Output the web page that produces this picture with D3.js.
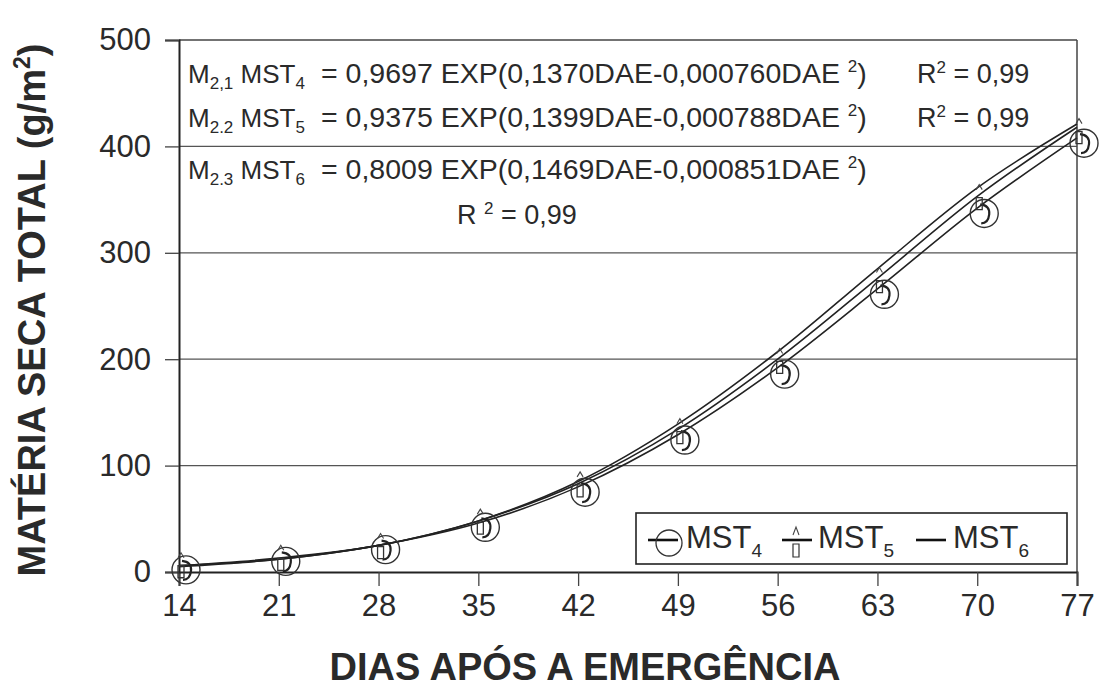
<!DOCTYPE html>
<html>
<head>
<meta charset="utf-8">
<script src="https://cdn.jsdelivr.net/npm/d3@7"></script>
<style>
  body { margin: 0; background: #fff; }
  text { font-family: "Liberation Sans", Arial, sans-serif; fill: #2a2a2a; }
</style>
</head>
<body>
<div id="chart"></div>
<script>
// days after emergence
var days = [14, 21, 28, 35, 42, 49, 56, 63, 70, 77];
// observed points
var obs4 = [2, 10, 21, 42, 75, 124, 186, 261, 337, 403];
var obs5 = [4, 11, 22, 45, 80, 130, 196, 272, 350, 412];
// fitted curves
var fit4 = [6, 12, 25, 46, 80, 129, 192, 266, 342, 408];
var fit5 = [6, 13, 25, 48, 83, 134, 200, 276, 353, 418];
var fit6 = [5, 12, 25, 48, 85, 139, 207, 285, 361, 421];
var yTicks = [0, 100, 200, 300, 400, 500];

var W = 1099, H = 689;
var pLeft = 179, pRight = 1077, pTop = 40, pBottom = 572;

var svg = d3.select("#chart").append("svg")
    .attr("width", W)
    .attr("height", H);

var x = d3.scaleLinear().domain([14, 77]).range([pLeft, pRight]);
var y = d3.scaleLinear().domain([0, 500]).range([pBottom, pTop]);

// gridlines
svg.append("g")
    .selectAll("line")
    .data(yTicks.slice(1, 5))
    .enter().append("line")
    .attr("x1", pLeft).attr("x2", pRight)
    .attr("y1", function (d) { return y(d); })
    .attr("y2", function (d) { return y(d); })
    .attr("stroke", "#555")
    .attr("stroke-width", 1.3);

// frame top/right
svg.append("line").attr("x1", pLeft).attr("x2", pRight).attr("y1", pTop).attr("y2", pTop)
    .attr("stroke", "#444").attr("stroke-width", 1.5);
svg.append("line").attr("x1", pRight).attr("x2", pRight).attr("y1", pTop).attr("y2", pBottom)
    .attr("stroke", "#444").attr("stroke-width", 1.5);

// axes
var gx = svg.append("g")
    .attr("transform", "translate(0," + pBottom + ")")
    .call(d3.axisBottom(x).tickValues(days).tickSize(14).tickPadding(8));
var gy = svg.append("g")
    .attr("transform", "translate(" + pLeft + ",0)")
    .call(d3.axisLeft(y).tickValues(yTicks).tickSize(14).tickPadding(14));

[gx, gy].forEach(function (g) {
    g.select(".domain").attr("stroke", "#222").attr("stroke-width", 2);
    g.selectAll(".tick line").attr("stroke", "#444").attr("stroke-width", 1.3);
    g.selectAll(".tick text")
        .attr("font-size", 31)
        .attr("font-family", "Liberation Sans, Arial, sans-serif")
        .attr("fill", "#333");
});

// fitted lines
var line = d3.line()
    .x(function (d, i) { return x(days[i]); })
    .y(function (d) { return y(d); })
    .curve(d3.curveMonotoneX);

[fit4, fit5, fit6].forEach(function (s) {
    svg.append("path")
        .attr("d", line(s))
        .attr("fill", "none")
        .attr("stroke", "#222")
        .attr("stroke-width", 1.6);
});

// MST4 markers: open circles with a stroke through
var m4 = svg.append("g");
days.forEach(function (d, i) {
    var g = m4.append("g").attr("transform", "translate(" + (x(d) + 7) + "," + y(obs4[i]) + ")");
    g.append("circle").attr("r", 14).attr("fill", "none").attr("stroke", "#333").attr("stroke-width", 1.4);
    g.append("path").attr("d", "M-4,-9 Q6,-8 5,1 Q4,10 -3,10").attr("fill", "none").attr("stroke", "#222").attr("stroke-width", 2.2);
});

// MST5 markers: small house shape
var m5 = svg.append("g");
days.forEach(function (d, i) {
    var g = m5.append("g").attr("transform", "translate(" + (x(d) + 2) + "," + y(obs5[i]) + ")");
    g.append("path").attr("d", "M-3,-2 L3,-2 L3,10 L-3,10 Z").attr("fill", "none").attr("stroke", "#333").attr("stroke-width", 1.3);
    g.append("path").attr("d", "M-3,-10 L0,-15 L3,-10").attr("fill", "none").attr("stroke", "#444").attr("stroke-width", 1.1);
});

// equations
var eqs = [
    { m: "2,1", k: "4", eq: "= 0,9697 EXP(0,1370DAE-0,000760DAE ", r: true, yy: 83 },
    { m: "2.2", k: "5", eq: "= 0,9375 EXP(0,1399DAE-0,000788DAE ", r: true, yy: 127 },
    { m: "2.3", k: "6", eq: "= 0,8009 EXP(0,1469DAE-0,000851DAE ", r: false, yy: 179 }
];
eqs.forEach(function (e) {
    var t = svg.append("text").attr("x", 188).attr("y", e.yy).attr("font-size", 26);
    t.append("tspan").text("M");
    t.append("tspan").attr("font-size", 17).attr("dy", 6).text(e.m);
    t.append("tspan").attr("dy", -6).text(" MST");
    t.append("tspan").attr("font-size", 17).attr("dy", 6).text(e.k);
    t.append("tspan").attr("x", 321).attr("dy", -6).attr("font-size", 28.5).text(e.eq);
    t.append("tspan").attr("font-size", 17).attr("dy", -11).text("2");
    t.append("tspan").attr("dy", 11).attr("font-size", 28.5).text(")");
    if (e.r) {
        var r = svg.append("text").attr("x", 917).attr("y", e.yy).attr("font-size", 27);
        r.append("tspan").text("R");
        r.append("tspan").attr("font-size", 17).attr("dy", -10).text("2");
        r.append("tspan").attr("dy", 10).text(" = 0,99");
    }
});
var r3 = svg.append("text").attr("x", 457).attr("y", 224).attr("font-size", 27);
r3.append("tspan").text("R ");
r3.append("tspan").attr("font-size", 17).attr("dy", -10).text("2");
r3.append("tspan").attr("dy", 10).text(" = 0,99");

// legend
var lg = svg.append("g");
lg.append("rect").attr("x", 636).attr("y", 513).attr("width", 431).attr("height", 51)
    .attr("fill", "#fff").attr("stroke", "#222").attr("stroke-width", 1.6);
var items = [
    { name: "4", lx: 648, tx: 686 },
    { name: "5", lx: 782, tx: 818 },
    { name: "6", lx: 916, tx: 953 }
];
items.forEach(function (it, i) {
    lg.append("line").attr("x1", it.lx).attr("x2", it.lx + 30).attr("y1", 540).attr("y2", 540)
        .attr("stroke", "#111").attr("stroke-width", 2.6);
    if (i === 0) {
        lg.append("circle").attr("cx", 669).attr("cy", 543).attr("r", 13)
            .attr("fill", "none").attr("stroke", "#333").attr("stroke-width", 1.3);
    }
    if (i === 1) {
        lg.append("path").attr("d", "M793,544 L799,544 L799,557 L793,557 Z").attr("fill", "none").attr("stroke", "#333").attr("stroke-width", 1.2);
        lg.append("path").attr("d", "M793,535 L796,527 L799,535").attr("fill", "none").attr("stroke", "#444").attr("stroke-width", 1.1);
    }
    var t = lg.append("text").attr("x", it.tx).attr("y", 548).attr("font-size", 31);
    t.append("tspan").text("MST");
    t.append("tspan").attr("font-size", 19).attr("dy", 9).text(it.name);
});

// axis titles
svg.append("text")
    .attr("x", 585).attr("y", 680)
    .attr("text-anchor", "middle")
    .attr("font-size", 38).attr("font-weight", "bold").attr("fill", "#111")
    .text("DIAS APÓS A EMERGÊNCIA");

var yt = svg.append("text")
    .attr("transform", "translate(45,310) rotate(-90)")
    .attr("text-anchor", "middle")
    .attr("font-size", 38).attr("font-weight", "bold").attr("fill", "#111");
yt.append("tspan").text("MATÉRIA SECA TOTAL (g/m");
yt.append("tspan").attr("font-size", 23).attr("dy", -15).text("2");
yt.append("tspan").attr("dy", 15).text(")");
</script>
</body>
</html>
